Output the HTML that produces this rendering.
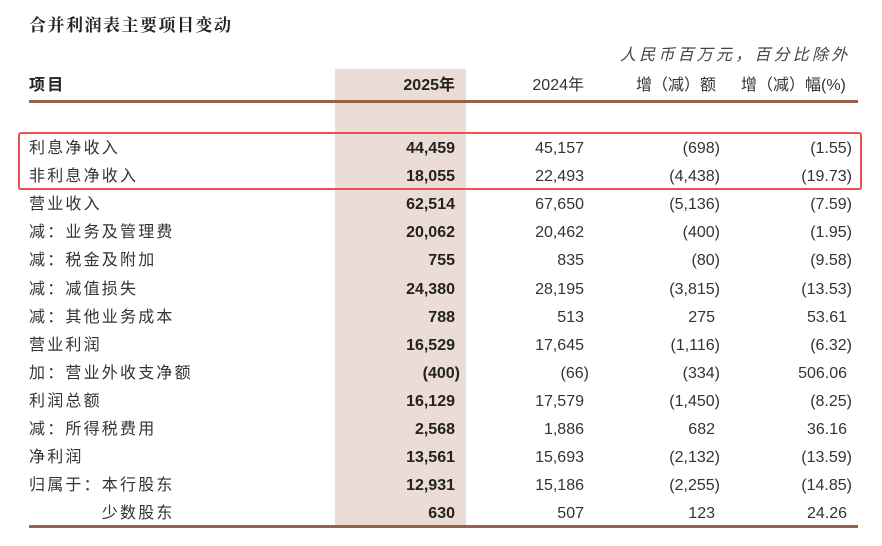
<!DOCTYPE html>
<html><head><meta charset="utf-8"><style>
body{margin:0;width:882px;height:546px;background:#fff;position:relative;overflow:hidden;font-family:"Liberation Sans","Noto Sans CJK SC",sans-serif;color:#333;}
div{position:absolute;white-space:nowrap}
.t{font-size:16px;line-height:20px;height:20px}
.r{text-align:right}
.b{font-weight:bold;color:#222}
.c{letter-spacing:2.2px}
</style></head><body>
<div style="left:335px;top:69px;width:131px;height:458px;background:#ecdcd6"></div>
<div style="left:29px;top:14px;font-family:'Noto Serif CJK SC',serif;font-weight:bold;font-size:17px;letter-spacing:1.5px;color:#222;line-height:20px">合并利润表主要项目变动</div>
<div class="t" style="left:620px;top:46px;font-style:italic;color:#444;font-size:16px;letter-spacing:3.2px">人民币百万元，百分比除外</div>
<div class="t b c" style="left:29px;top:76px">项目</div>
<div class="t r b" style="left:355px;width:100px;top:76px">2025年</div>
<div class="t r" style="left:484px;width:100px;top:76px">2024年</div>
<div class="t" style="left:636px;top:76px">增（减）额</div>
<div class="t" style="left:741px;top:76px">增（减）幅(%)</div>
<div style="left:29px;top:100px;width:829px;height:3px;background:#94634a"></div>
<div style="left:29px;top:525px;width:829px;height:3px;background:#94634a"></div>
<div style="left:18px;top:132px;width:840px;height:54px;border:2px solid #f05050;border-radius:3px"></div>
<div id="rows"></div>
<script>
var d=[["利息净收入","44,459","45,157","(698)","(1.55)"],["非利息净收入","18,055","22,493","(4,438)","(19.73)"],["营业收入","62,514","67,650","(5,136)","(7.59)"],["减：业务及管理费","20,062","20,462","(400)","(1.95)"],["减：税金及附加","755","835","(80)","(9.58)"],["减：减值损失","24,380","28,195","(3,815)","(13.53)"],["减：其他业务成本","788","513","275","53.61"],["营业利润","16,529","17,645","(1,116)","(6.32)"],["加：营业外收支净额","(400)","(66)","(334)","506.06"],["利润总额","16,129","17,579","(1,450)","(8.25)"],["减：所得税费用","2,568","1,886","682","36.16"],["净利润","13,561","15,693","(2,132)","(13.59)"],["归属于：本行股东","12,931","15,186","(2,255)","(14.85)"],["　　　　少数股东","630","507","123","24.26"]];
var R=[455,584,715,847],h="";
d.forEach(function(r,i){var y=139+i*28.1;
h+='<div class="t c" style="left:29px;top:'+y+'px">'+r[0]+'</div>';
for(var j=1;j<5;j++){var v=r[j],p=v.charAt(0)=="(";var e=R[j-1]+(p?5:0);
h+='<div class="t r'+(j==1?' b':'')+'" style="left:'+(e-120)+'px;width:120px;top:'+y+'px">'+v+'</div>';}
});
document.getElementById("rows").outerHTML=h;
</script>
</body></html>
